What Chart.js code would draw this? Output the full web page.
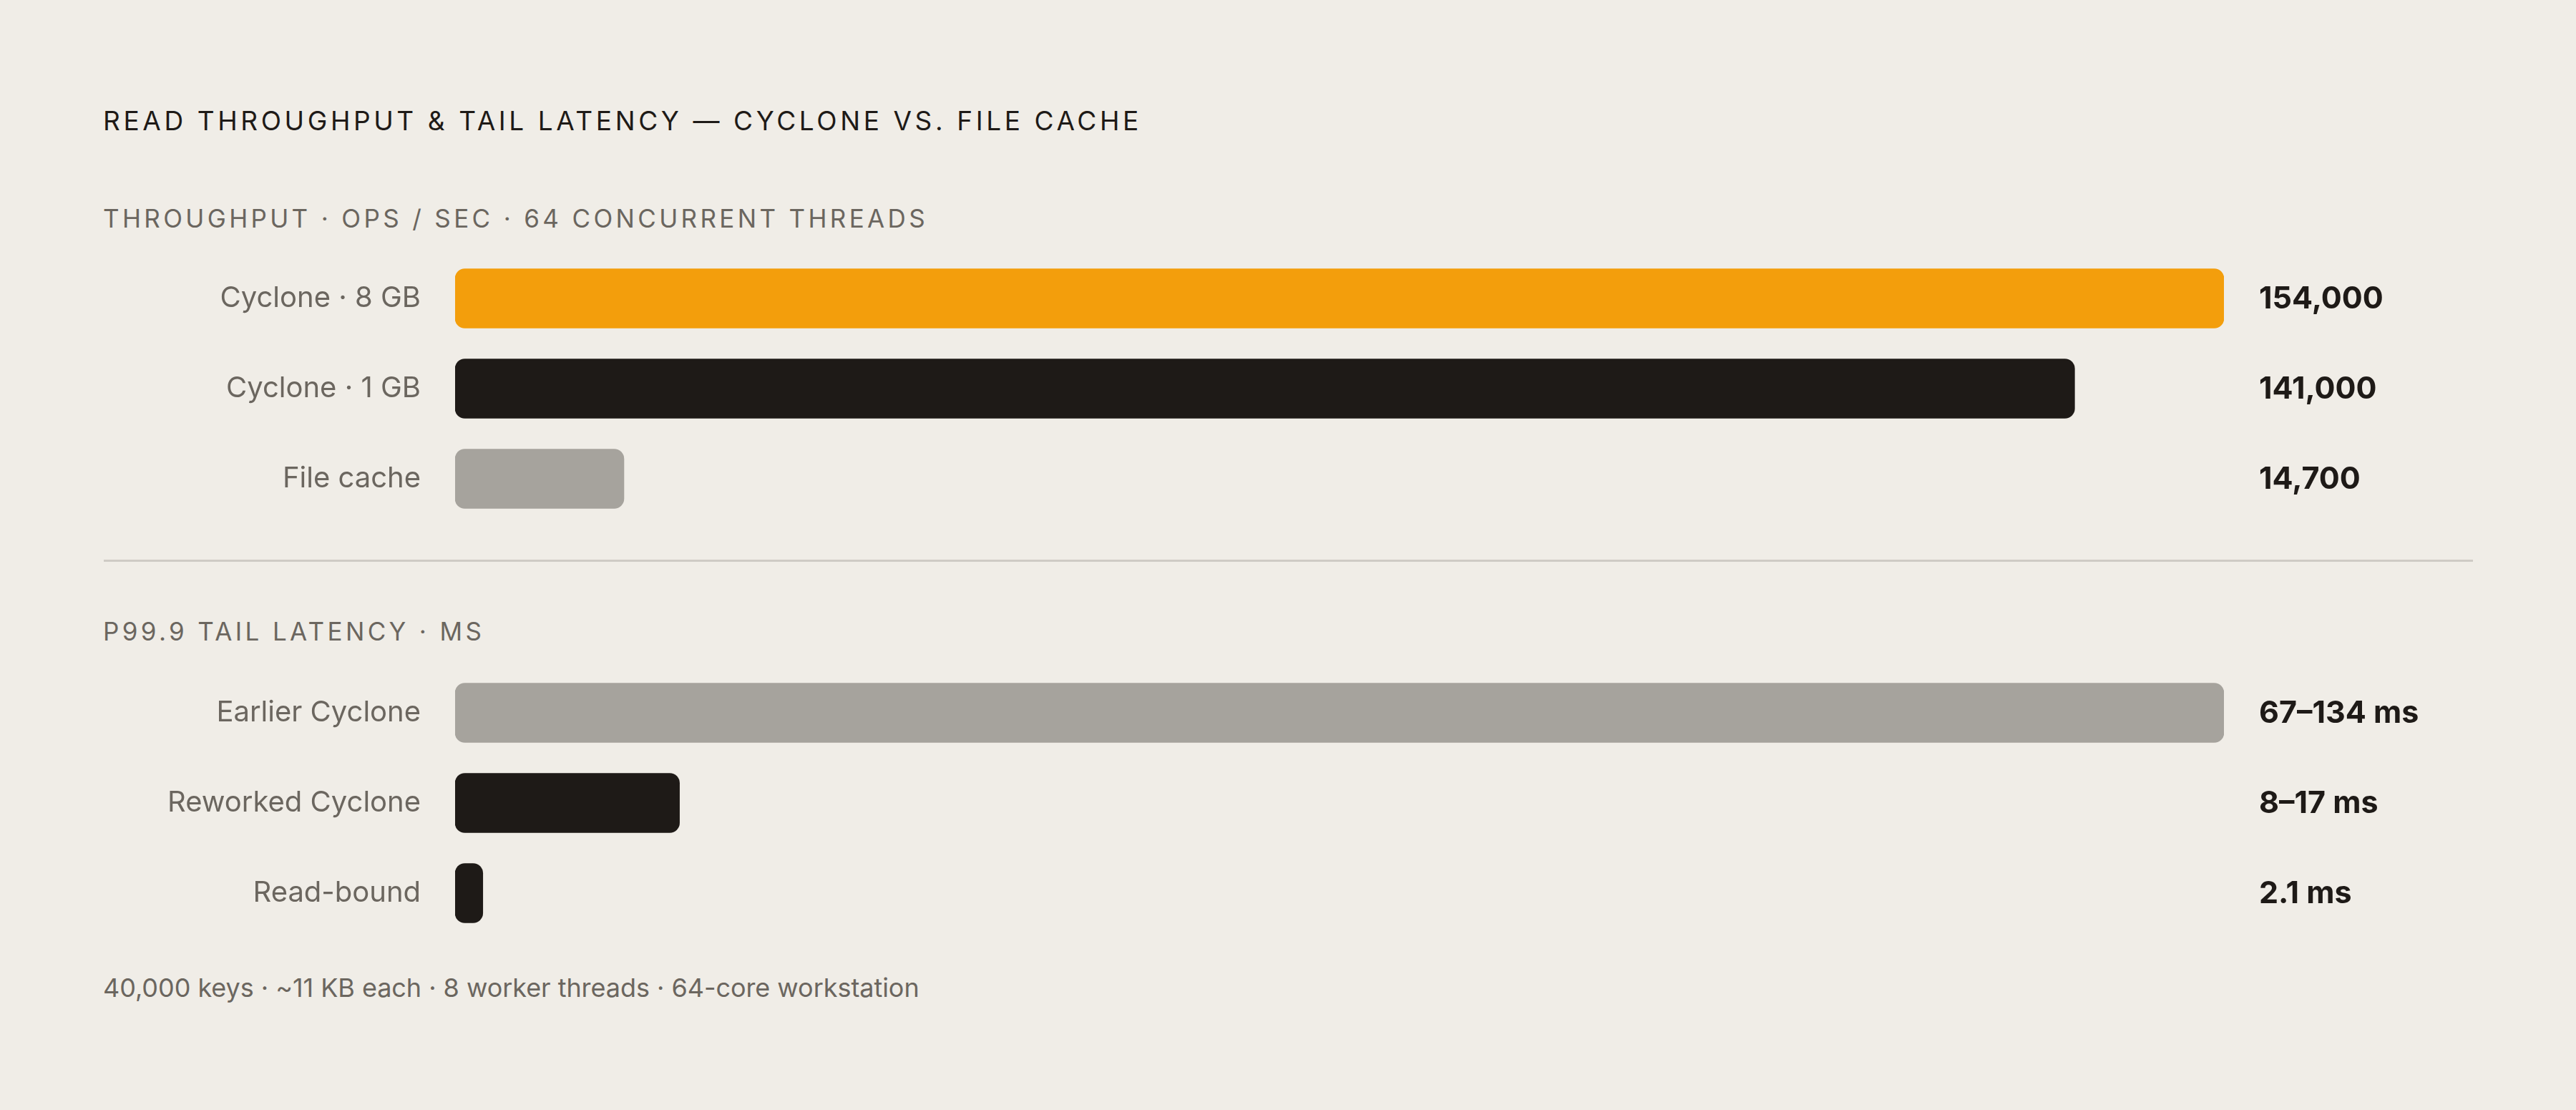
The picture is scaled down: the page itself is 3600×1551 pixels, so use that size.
<!DOCTYPE html>
<html>
<head>
<meta charset="utf-8">
<script src="https://cdn.jsdelivr.net/npm/chart.js@4"></script>
<style>
  html, body { margin:0; padding:0; }
  body { width:3600px; height:1551px; background:#F0EDE7; position:relative; overflow:hidden; font-family:Inter, "DejaVu Sans", sans-serif; }
  .t { position:absolute; left:144px; white-space:nowrap; line-height:1; }
  #title { top:150px; font-size:37px; letter-spacing:4.6px; color:#1E1A17; font-weight:400; }
  .sub { font-size:35px; letter-spacing:4.35px; color:#6B665F; font-weight:400; }
  #sub1 { top:288px; }
  #sub2 { top:865px; }
  #foot { top:1362px; font-size:36px; color:#6B665F; letter-spacing:-0.05px; }
  #rule { position:absolute; left:145px; width:3311px; top:782px; height:3px; background:#CFCBC5; }
  .box { position:absolute; left:0; width:3600px; height:378px; }
  .box canvas { display:block; }
  #box1 { top:354px; }
  #box2 { top:933px; }
</style>
</head>
<body>
<div class="t" id="title">READ THROUGHPUT &amp; TAIL LATENCY — CYCLONE VS. FILE CACHE</div>
<div class="t sub" id="sub1">THROUGHPUT · OPS / SEC · 64 CONCURRENT THREADS</div>
<div id="rule"></div>
<div class="t sub" id="sub2">P99.9 TAIL LATENCY · MS</div>
<div class="t" id="foot">40,000 keys · ~11 KB each · 8 worker threads · 64-core workstation</div>
<div class="box" id="box1"><canvas id="c1" width="3600" height="378" style="width:3600px;height:378px"></canvas></div>
<div class="box" id="box2"><canvas id="c2" width="3600" height="378" style="width:3600px;height:378px"></canvas></div>
<script>
const throughputCategories = ['Cyclone · 8 GB', 'Cyclone · 1 GB', 'File cache'];
const throughputValues = [154000, 141000, 14700];
const throughputLabels = ['154,000', '141,000', '14,700'];
const throughputColors = ['#F39E0C', '#1E1A17', '#A6A39D'];

const latencyCategories = ['Earlier Cyclone', 'Reworked Cyclone', 'Read-bound'];
const latencyValues = [134, 17, 2.1];
const latencyLabels = ['67–134 ms', '8–17 ms', '2.1 ms'];
const latencyColors = ['#A6A39D', '#1E1A17', '#1E1A17'];

const valueLabelPlugin = {
  id: 'valueLabels',
  afterDatasetsDraw(chart, args, opts) {
    const ctx = chart.ctx;
    const meta = chart.getDatasetMeta(0);
    ctx.save();
    ctx.font = '700 43px Inter, "DejaVu Sans", sans-serif';
    ctx.fillStyle = '#1E1A17';
    ctx.textAlign = 'left';
    ctx.textBaseline = 'middle';
    meta.data.forEach((bar, i) => {
      ctx.fillText(opts.labels[i], chart.chartArea.right + 49, bar.y + 1);
    });
    ctx.restore();
  }
};

function makeChart(id, cats, vals, colors, labels) {
  return new Chart(document.getElementById(id), {
    type: 'bar',
    data: {
      labels: cats,
      datasets: [{
        data: vals,
        backgroundColor: colors,
        borderRadius: 14,
        borderSkipped: false,
        barThickness: 83
      }]
    },
    options: {
      indexAxis: 'y',
      responsive: false,
      maintainAspectRatio: false,
      devicePixelRatio: 1,
      animation: false,
      events: [],
      layout: { padding: 0 },
      plugins: {
        legend: { display: false },
        tooltip: { enabled: false },
        valueLabels: { labels: labels }
      },
      scales: {
        x: { display: false, min: 0, max: Math.max(...vals) },
        y: {
          grid: { display: false, drawTicks: false },
          border: { display: false },
          ticks: {
            padding: 48,
            color: '#6B665F',
            font: { family: 'Inter, "DejaVu Sans", sans-serif', size: 40, weight: 400 }
          },
          afterFit(scale) {
            scale.width = 636;
            scale.paddingTop = 0;
            scale.paddingBottom = 0;
          }
        }
      }
    },
    plugins: [valueLabelPlugin, {
      id: 'rightGap',
      beforeLayout(chart) { chart.options.layout.padding = { left: 0, right: 492, top: 0, bottom: 0 }; }
    }]
  });
}

makeChart('c1', throughputCategories, throughputValues, throughputColors, throughputLabels);
makeChart('c2', latencyCategories, latencyValues, latencyColors, latencyLabels);
</script>
</body>
</html>
